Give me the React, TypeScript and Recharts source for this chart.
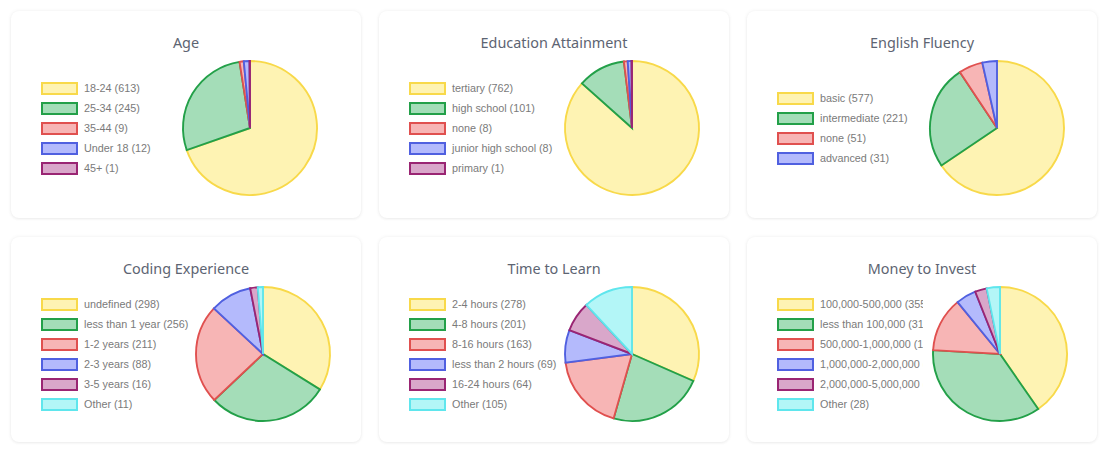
import React from "react";
import { PieChart, Pie, Cell } from "recharts";

const ageLabels = ["18-24", "25-34", "35-44", "Under 18", "45+"];
const ageValues = [613, 245, 9, 12, 1];

const eduLabels = ["tertiary", "high school", "none", "junior high school", "primary"];
const eduValues = [762, 101, 8, 8, 1];

const engLabels = ["basic", "intermediate", "none", "advanced"];
const engValues = [577, 221, 51, 31];

const codeLabels = ["undefined", "less than 1 year", "1-2 years", "2-3 years", "3-5 years", "Other"];
const codeValues = [298, 256, 211, 88, 16, 11];

const timeLabels = ["2-4 hours", "4-8 hours", "8-16 hours", "less than 2 hours", "16-24 hours", "Other"];
const timeValues = [278, 201, 163, 69, 64, 105];

const moneyLabels = ["100,000-500,000", "less than 100,000", "500,000-1,000,000", "1,000,000-2,000,000", "2,000,000-5,000,000", "Other"];
const moneyValues = [355, 313, 116, 43, 25, 28];

const fills = ["#fef3b3", "#a4ddb8", "#f7b5b5", "#b4bafc", "#d9a7ca", "#b3f6f7"];
const strokes = ["#f8d94a", "#23a049", "#e0504f", "#5060e0", "#9a2573", "#5fe6ed"];

type Panel = {
  title: string;
  labels: string[];
  values: number[];
  left: number;
  top: number;
  height: number;
  cx: number;
  legendWidth: number;
};

const panels: Panel[] = [
  { title: "Age", labels: ageLabels, values: ageValues, left: 11, top: 11, height: 207, cx: 239, legendWidth: 180 },
  { title: "Education Attainment", labels: eduLabels, values: eduValues, left: 379, top: 11, height: 207, cx: 253, legendWidth: 180 },
  { title: "English Fluency", labels: engLabels, values: engValues, left: 747, top: 11, height: 207, cx: 250, legendWidth: 180 },
  { title: "Coding Experience", labels: codeLabels, values: codeValues, left: 11, top: 237, height: 205, cx: 252, legendWidth: 180 },
  { title: "Time to Learn", labels: timeLabels, values: timeValues, left: 379, top: 237, height: 205, cx: 253, legendWidth: 180 },
  { title: "Money to Invest", labels: moneyLabels, values: moneyValues, left: 747, top: 237, height: 205, cx: 253, legendWidth: 146 },
];

const CARD_W = 350;

function Card({ p }: { p: Panel }) {
  const data = p.labels.map((name, i) => ({ name, value: p.values[i] }));
  const cy = 117;
  const legendTop = cy - (data.length * 20) / 2;
  return (
    <div
      style={{
        position: "absolute",
        left: p.left,
        top: p.top,
        width: CARD_W,
        height: p.height,
        background: "#fff",
        borderRadius: 8,
        boxShadow: "0 0 4px rgba(0,0,0,0.06), 0 1px 3px rgba(0,0,0,0.05)",
        overflow: "hidden",
      }}
    >
      <div
        style={{
          position: "absolute",
          left: 0,
          top: 22,
          width: CARD_W,
          textAlign: "center",
          fontFamily: "'Noto Sans', sans-serif",
          fontSize: 14.4,
          lineHeight: "20px",
          color: "#5d6472",
        }}
      >
        {p.title}
      </div>
      <div style={{ position: "absolute", left: 0, top: 0 }}>
        <PieChart width={CARD_W} height={p.height} margin={{ top: 0, right: 0, bottom: 0, left: 0 }}>
          <Pie
            data={data}
            dataKey="value"
            nameKey="name"
            cx={p.cx}
            cy={cy}
            outerRadius={67}
            innerRadius={0}
            startAngle={90}
            endAngle={-270}
            isAnimationActive={false}
            label={false}
            labelLine={false}
          >
            {data.map((d, i) => (
              <Cell key={d.name} fill={fills[i]} stroke={strokes[i]} strokeWidth={1.9} />
            ))}
          </Pie>
        </PieChart>
      </div>
      <div
        style={{
          position: "absolute",
          left: 30,
          top: legendTop,
          width: p.legendWidth,
          overflow: "hidden",
          fontFamily: "'Liberation Sans', Arial, sans-serif",
          fontSize: 10.8,
          color: "#7a7a7a",
        }}
      >
        {data.map((d, i) => (
          <div key={d.name} style={{ height: 20, display: "flex", alignItems: "center", whiteSpace: "nowrap" }}>
            <div
              style={{
                width: 37,
                height: 13,
                boxSizing: "border-box",
                background: fills[i],
                border: `2px solid ${strokes[i]}`,
                flexShrink: 0,
                marginRight: 6,
              }}
            />
            <span>{`${d.name} (${d.value})`}</span>
          </div>
        ))}
      </div>
    </div>
  );
}

export default function App() {
  return (
    <div style={{ position: "fixed", left: 0, top: 0, width: 1109, height: 454, background: "#fff", overflow: "hidden" }}>
      {panels.map((p) => (
        <Card key={p.title} p={p} />
      ))}
    </div>
  );
}
